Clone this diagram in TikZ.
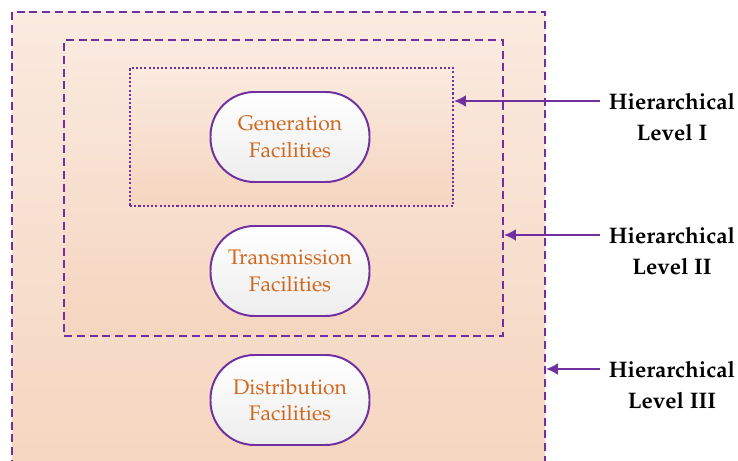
\documentclass[tikz,border=0pt]{standalone}
\usepackage[T1]{fontenc}
\usepackage{mathpazo}
\usetikzlibrary{arrows.meta}
\definecolor{lvlpurple}{HTML}{7030A0}
\definecolor{facorange}{HTML}{D0691F}
\definecolor{peachtop}{HTML}{FAEADF}
\definecolor{peachbot}{HTML}{F5D5BF}
\tikzset{
  levelbox/.style={draw=lvlpurple, line width=1.4pt, top color=peachtop, bottom color=peachbot},
  facility/.style={draw=lvlpurple, line width=1.4pt, rounded corners=1.1cm, top color=white, bottom color=black!7,
    minimum width=3.975cm, minimum height=2.25cm, align=center, text=facorange, font=\fontsize{15}{19}\selectfont},
  levellabel/.style={align=center, font=\bfseries\fontsize{16}{22}\selectfont},
  levelarrow/.style={draw=lvlpurple, line width=1.4pt, -{Latex[length=8.5pt,width=8.5pt]}}
}
\begin{document}
\begin{tikzpicture}
\useasboundingbox (0,0) rectangle (18.45,11.525);
% nested level boxes
\node[levelbox, dash pattern=on 5.7pt off 3.4pt, minimum width=13.325cm, minimum height=11.725cm] (outer) at (6.9625,5.3625) {};
\node[levelbox, dash pattern=on 5.7pt off 3.4pt, minimum width=10.975cm, minimum height=7.4cm] (middle) at (7.0875,6.825) {};
\node[levelbox, dash pattern=on 1.5pt off 1.5pt, minimum width=8.075cm, minimum height=3.45cm] (inner) at (7.2875,8.1) {};
% facilities
\node[facility] (gen) at (7.25,8.1) {Generation\\Facilities};
\node[facility] (trans) at (7.25,4.75) {Transmission\\Facilities};
\node[facility] (dist) at (7.25,1.525) {Distribution\\Facilities};
% levels
\node[levellabel] (lvlI) at (16.8,8.6) {Hierarchical\\Level I};
\node[levellabel] (lvlII) at (16.8,5.25) {Hierarchical\\Level II};
\node[levellabel] (lvlIII) at (16.8,1.9) {Hierarchical\\Level III};
\coordinate (fromI) at (15,9);
\coordinate (fromII) at (15,5.65);
\coordinate (fromIII) at (15,2.3);
\draw[levelarrow] (fromI) -- (inner.east |- fromI);
\draw[levelarrow] (fromII) -- (middle.east |- fromII);
\draw[levelarrow] (fromIII) -- (outer.east |- fromIII);
\end{tikzpicture}
\end{document}
